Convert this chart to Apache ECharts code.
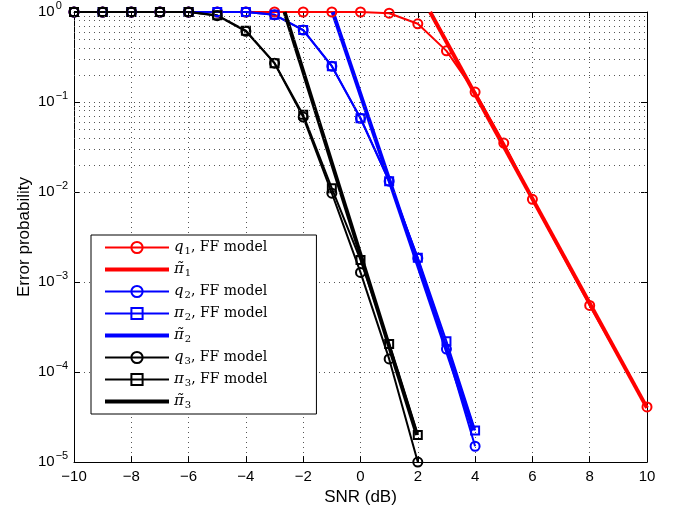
<!DOCTYPE html>
<html>
<head>
<meta charset="utf-8">
<script src="https://cdn.jsdelivr.net/npm/echarts@6/dist/echarts.min.js"></script>
<style>html,body{margin:0;padding:0;background:#fff}#c{width:680px;height:511px}</style>
</head>
<body>
<div id="c"></div>
<script>
// ---- data ----
const xTicks = [-10, -8, -6, -4, -2, 0, 2, 4, 6, 8, 10];
const yTicksExp = [0, -1, -2, -3, -4, -5];

const q1X = [-10, -9, -8, -7, -6, -5, -4, -3, -2, -1, 0, 1, 2, 3, 4, 5, 6, 8, 10];
const q1Y = [1, 1, 1, 1, 1, 1, 1, 1, 1, 1, 1, 0.97, 0.74, 0.37, 0.129, 0.035, 0.0083, 5.5e-4, 4.1e-5];

const pt1X = [2.43, 10];
const pt1Y = [1, 4.0e-5];

const q2X = [-10, -9, -8, -7, -6, -5, -4, -3, -2, -1, 0, 1, 2, 3, 4];
const q2Y = [1, 1, 1, 1, 1, 1, 1, 0.93, 0.63, 0.25, 0.066, 0.0132, 0.00184, 1.8e-4, 1.5e-5];

const p2X = [-10, -9, -8, -7, -6, -5, -4, -3, -2, -1, 0, 1, 2, 3, 4];
const p2Y = [1, 1, 1, 1, 1, 1, 1, 0.93, 0.63, 0.25, 0.066, 0.0132, 0.00186, 2.2e-4, 2.25e-5];

const pt2X = [-0.97, 3.95];
const pt2Y = [1, 2.25e-5];

const q3X = [-10, -9, -8, -7, -6, -5, -4, -3, -2, -1, 0, 1, 2];
const q3Y = [1, 1, 1, 1, 1, 0.91, 0.61, 0.27, 0.068, 0.0097, 1.28e-3, 1.4e-4, 1.0e-5];

const p3X = [-10, -9, -8, -7, -6, -5, -4, -3, -2, -1, 0, 1, 2];
const p3Y = [1, 1, 1, 1, 1, 0.92, 0.62, 0.27, 0.072, 0.011, 1.76e-3, 2.05e-4, 2.0e-5];

const pt3X = [-2.65, 1.97];
const pt3Y = [1, 2.0e-5];

const minorMult = [2, 3, 4, 5, 6, 7, 8, 9];
const minorDecades = [-5, -4, -3, -2, -1];

const seriesNames = ['q1, FF model', 'π̃1', 'q2, FF model', 'π2, FF model', 'π̃2', 'q3, FF model', 'π3, FF model', 'π̃3'];
const seriesColors = ['#ff0000', '#ff0000', '#0000ff', '#0000ff', '#0000ff', '#000000', '#000000', '#000000'];
const legendRich = {
  'q1, FF model': '{i|q}{s|1}{t|, FF model}',
  'π̃1': '{p|π̃}{s|1}',
  'q2, FF model': '{i|q}{s|2}{t|, FF model}',
  'π2, FF model': '{p|π}{s|2}{t|, FF model}',
  'π̃2': '{p|π̃}{s|2}',
  'q3, FF model': '{i|q}{s|3}{t|, FF model}',
  'π3, FF model': '{p|π}{s|3}{t|, FF model}',
  'π̃3': '{p|π̃}{s|3}'
};

// ---- build ----
const zip = (xs, ys) => xs.map((x, i) => [x, ys[i]]);
const minorVals = [];
minorDecades.forEach(d => minorMult.forEach(m => minorVals.push(m * Math.pow(10, d))));

function mk(name, xs, ys, color, symbol, width) {
  const s = {
    name: name, type: 'line', data: zip(xs, ys),
    xAxisIndex: 0, yAxisIndex: 0,
    lineStyle: { color: color, width: width },
    itemStyle: symbol
      ? { color: 'rgba(255,255,255,0)', borderColor: color, borderWidth: 2 }
      : { color: color, borderWidth: 0 },
    symbol: symbol || 'none',
    showSymbol: !!symbol,
    symbolSize: symbol === 'rect' ? 8 : 9,
    clip: true, animation: false, silent: true
  };
  return s;
}

const thickIcon = 'path://M0,0 L64,0 L64,4 L0,4 Z';
const legendData = seriesNames.map((n, i) => {
  if (n.indexOf('π̃') === 0) {
    return { name: n, icon: thickIcon, itemStyle: { color: seriesColors[i], borderWidth: 0 } };
  }
  return { name: n };
});

const dotted = { color: '#555', width: 1, type: [1, 4] };
const font = 'Liberation Sans, Arial, sans-serif';
const serif = 'DejaVu Serif, Liberation Serif, serif';

const option = {
  animation: false,
  backgroundColor: '#fff',
  grid: { left: 74, right: 33, top: 12, bottom: 47, show: false },
  xAxis: [
    {
      type: 'value', position: 'bottom', min: -10, max: 10, interval: 2,
      axisLine: { show: true, onZero: false, lineStyle: { color: '#000', width: 1 } },
      axisTick: { show: true, inside: true, length: 6, lineStyle: { color: '#000' } },
      axisLabel: {
        color: '#000', fontFamily: font, fontSize: 15, margin: 7,
        formatter: v => String(v).replace('-', '\u2212')
      },
      splitLine: { show: true, lineStyle: dotted },
      name: 'SNR (dB)', nameLocation: 'middle', nameGap: 26,
      nameTextStyle: { color: '#000', fontFamily: font, fontSize: 17 }
    },
    {
      type: 'value', position: 'top', min: -10, max: 10, interval: 2,
      axisLine: { show: true, onZero: false, lineStyle: { color: '#000', width: 1 } },
      axisTick: { show: true, inside: true, length: 6, lineStyle: { color: '#000' } },
      axisLabel: { show: false }, splitLine: { show: false }
    }
  ],
  yAxis: [
    {
      type: 'log', logBase: 10, min: 1e-5, max: 1, position: 'left',
      axisLine: { show: true, onZero: false, lineStyle: { color: '#000', width: 1 } },
      axisTick: { show: true, inside: true, length: 6, lineStyle: { color: '#000' } },
      axisLabel: {
        color: '#000', fontFamily: font, fontSize: 15, margin: 36, align: 'left',
        formatter: v => {
          const e = Math.round(Math.log10(v));
          return '{b|10}{e|' + String(e).replace('-', '\u2212') + '}';
        },
        rich: {
          b: { fontFamily: font, fontSize: 15, color: '#000' },
          e: { fontFamily: font, fontSize: 11, color: '#000', padding: [0, 0, 12, 1] }
        }
      },
      splitLine: { show: true, lineStyle: dotted },
      name: 'Error probability', nameLocation: 'middle', nameGap: 41,
      nameMoveOverlap: false,
      nameTextStyle: { color: '#000', fontFamily: font, fontSize: 17 }
    },
    {
      type: 'log', logBase: 10, min: 1e-5, max: 1, position: 'right',
      axisLine: { show: true, onZero: false, lineStyle: { color: '#000', width: 1 } },
      axisTick: { show: true, inside: true, length: 6, lineStyle: { color: '#000' } },
      axisLabel: { show: false }, splitLine: { show: false }
    }
  ],
  legend: {
    data: legendData,
    orient: 'vertical', left: 91, top: 235,
    padding: [4, 49, 4, 13],
    itemGap: 5, itemWidth: 64, itemHeight: 14,
    symbolKeepAspect: true,
    backgroundColor: '#fff', borderColor: '#000', borderWidth: 1, borderRadius: 0,
    selectedMode: false,
    formatter: name => legendRich[name],
    textStyle: {
      color: '#000', fontFamily: serif, fontSize: 14, lineHeight: 16,
      rich: {
        i: { fontFamily: serif, fontStyle: 'italic', fontSize: 15, lineHeight: 16, color: '#000' },
        p: { fontFamily: serif, fontStyle: 'italic', fontSize: 15, lineHeight: 16, color: '#000' },
        s: { fontFamily: serif, fontSize: 10, lineHeight: 16, padding: [7, 0, 0, 1], color: '#000' },
        t: { fontFamily: serif, fontSize: 14, lineHeight: 16, color: '#000' }
      }
    }
  },
  series: [
    {
      name: '__grid', type: 'line', data: [], xAxisIndex: 0, yAxisIndex: 0, silent: true,
      markLine: {
        silent: true, symbol: ['none', 'none'], animation: false,
        label: { show: false },
        lineStyle: dotted,
        data: minorVals.map(v => ({ yAxis: v }))
      }
    },
    mk(seriesNames[0], q1X, q1Y, seriesColors[0], 'circle', 2),
    mk(seriesNames[1], pt1X, pt1Y, seriesColors[1], null, 4),
    mk(seriesNames[2], q2X, q2Y, seriesColors[2], 'circle', 2),
    mk(seriesNames[3], p2X, p2Y, seriesColors[3], 'rect', 2),
    mk(seriesNames[4], pt2X, pt2Y, seriesColors[4], null, 4),
    mk(seriesNames[5], q3X, q3Y, seriesColors[5], 'circle', 2),
    mk(seriesNames[6], p3X, p3Y, seriesColors[6], 'rect', 2),
    mk(seriesNames[7], pt3X, pt3Y, seriesColors[7], null, 4)
  ]
};

const chart = echarts.init(document.getElementById('c'), null, { renderer: 'canvas' });
chart.setOption(option);
</script>
</body>
</html>
